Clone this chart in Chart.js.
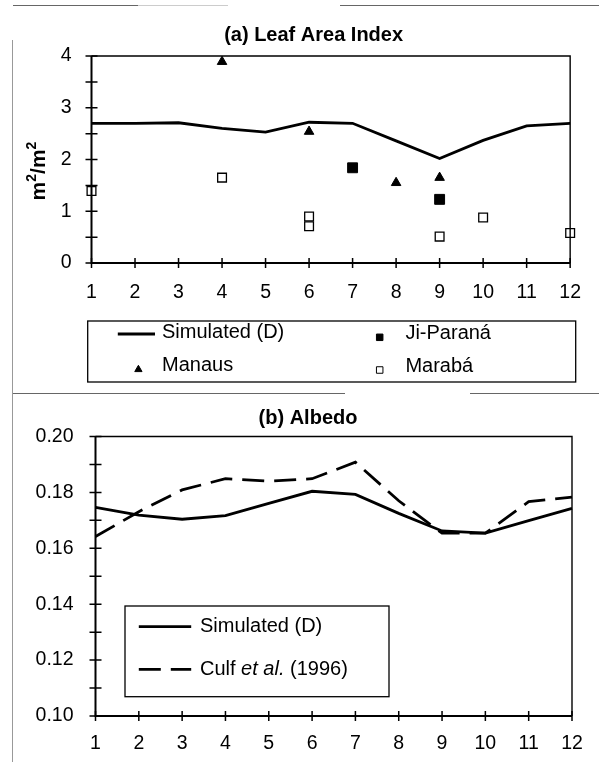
<!DOCTYPE html>
<html>
<head>
<meta charset="utf-8">
<script src="https://cdn.jsdelivr.net/npm/chart.js@4.4.0/dist/chart.umd.min.js"></script>
<style>
  html, body { margin: 0; padding: 0; background: #fff; }
  body { width: 599px; height: 770px; position: relative; overflow: hidden; }
  canvas { position: absolute; left: 0; }
  #laiChart { top: 0; }
  #albedoChart { top: 395px; }
  .rule { position: absolute; background: #666; }
  .rule.light { background: #999; }
</style>
</head>
<body>
<!-- figure frame rules -->
<div class="rule" style="left:13px;top:5px;width:125px;height:1px"></div>
<div class="rule light" style="left:138px;top:5px;width:90px;height:1px;opacity:.5"></div>
<div class="rule" style="left:340px;top:5px;width:259px;height:1px"></div>
<div class="rule light" style="left:12px;top:40px;width:1px;height:722px"></div>
<div class="rule" style="left:13px;top:393px;width:332px;height:1px"></div>
<div class="rule" style="left:470px;top:393px;width:129px;height:1px"></div>

<canvas id="laiChart" width="599" height="395"></canvas>
<canvas id="albedoChart" width="599" height="375"></canvas>

<script>
// ---- data ----
const months = [1, 2, 3, 4, 5, 6, 7, 8, 9, 10, 11, 12];
const monthLabels = ['1', '2', '3', '4', '5', '6', '7', '8', '9', '10', '11', '12'];

// (a) Leaf area index, m2/m2
const laiSimulated = [2.70, 2.70, 2.71, 2.60, 2.53, 2.72, 2.70, 2.36, 2.02, 2.37, 2.65, 2.70];
const manausMonths = [4, 6, 8, 9];
const manausLai = [3.89, 2.54, 1.55, 1.65];
const jiParanaMonths = [7, 9];
const jiParanaLai = [1.84, 1.23];
const marabaMonths = [1, 4, 6, 6, 9, 10, 12];
const marabaLai = [1.39, 1.65, 0.90, 0.71, 0.51, 0.88, 0.58];
const laiTicks = [0, 1, 2, 3, 4];

// (b) Albedo
const albedoSimulated = [0.1746, 0.1719, 0.1704, 0.1717, 0.1761, 0.1804, 0.1793, 0.1725, 0.1662, 0.1654, 0.1699, 0.1743];
const albedoCulf = [0.1642, 0.1731, 0.1809, 0.1849, 0.1840, 0.1849, 0.1908, 0.1770, 0.1654, 0.1654, 0.1767, 0.1783];
const albedoTicks = ['0.10', '0.12', '0.14', '0.16', '0.18', '0.20'];

// ---- helpers ----
const FONT = "'Liberation Sans', Arial, Helvetica, sans-serif";
const pairs = (xs, ys) => xs.map((m, i) => ({ x: m, y: ys[i] }));

// Axis box with tick marks that cross the axis lines
const framePlugin = {
  id: 'frame',
  afterDatasetsDraw(chart) {
    const { ctx, chartArea: a, scales: { x, y } } = chart;
    ctx.save();
    ctx.strokeStyle = '#000';
    ctx.lineWidth = 1.4;
    ctx.beginPath();
    ctx.moveTo(a.left, a.top); ctx.lineTo(a.right, a.top); ctx.lineTo(a.right, a.bottom);
    ctx.stroke();
    ctx.lineWidth = 2;
    ctx.beginPath();
    ctx.moveTo(a.left, a.top); ctx.lineTo(a.left, a.bottom); ctx.lineTo(a.right, a.bottom);
    ctx.stroke();
    ctx.lineWidth = 1.5;
    ctx.beginPath();
    x.ticks.forEach(t => {
      const px = x.getPixelForValue(t.value);
      ctx.moveTo(px, a.bottom - 5); ctx.lineTo(px, a.bottom + 5);
    });
    y.ticks.forEach(t => {
      const py = y.getPixelForValue(t.value);
      ctx.moveTo(a.left - 6, py); ctx.lineTo(a.left + 6, py);
    });
    ctx.stroke();
    ctx.restore();
  }
};

// Titles, axis title and boxed legend
const annotationPlugin = {
  id: 'annotations',
  afterDraw(chart, args, opts) {
    const ctx = chart.ctx;
    ctx.save();
    ctx.fillStyle = '#000';
    ctx.strokeStyle = '#000';
    // panel title
    ctx.font = `bold 20px ${FONT}`;
    ctx.textAlign = 'center';
    ctx.textBaseline = 'middle';
    ctx.fillText(opts.title.text, opts.title.x, opts.title.y);

    // rotated unit label with superscripts
    if (opts.yTitle) {
      const parts = opts.yTitle.parts;
      ctx.save();
      ctx.translate(opts.yTitle.x, opts.yTitle.y);
      ctx.rotate(-Math.PI / 2);
      ctx.textAlign = 'left';
      ctx.textBaseline = 'alphabetic';
      let total = 0;
      parts.forEach(p => { ctx.font = `bold ${p.size}px ${FONT}`; total += ctx.measureText(p.text).width; });
      let cx = -total / 2;
      parts.forEach(p => {
        ctx.font = `bold ${p.size}px ${FONT}`;
        ctx.fillText(p.text, cx, p.rise);
        cx += ctx.measureText(p.text).width;
      });
      ctx.restore();
    }

    // legend box
    const lg = opts.legend;
    ctx.lineWidth = 1.3;
    ctx.strokeRect(lg.box[0], lg.box[1], lg.box[2], lg.box[3]);
    lg.items.forEach(item => {
      const ds = chart.data.datasets[item.dataset];
      if (item.line) {
        ctx.save();
        ctx.lineWidth = ds.borderWidth;
        ctx.strokeStyle = ds.borderColor;
        ctx.setLineDash(ds.borderDash || []);
        ctx.beginPath();
        ctx.moveTo(item.line[0], item.line[2]);
        ctx.lineTo(item.line[1], item.line[2]);
        ctx.stroke();
        ctx.restore();
      } else {
        ctx.save();
        ctx.fillStyle = ds.backgroundColor;
        ctx.strokeStyle = ds.borderColor;
        ctx.lineWidth = 1;
        Chart.helpers.drawPoint(ctx, {
          pointStyle: ds.pointStyle, radius: item.radius, rotation: 0, borderWidth: 1
        }, item.marker[0], item.marker[1]);
        ctx.restore();
      }
      ctx.textAlign = 'left';
      ctx.textBaseline = 'middle';
      let tx = item.text[0];
      item.runs.forEach(r => {
        ctx.font = `${r.italic ? 'italic ' : ''}20px ${FONT}`;
        ctx.fillText(r.t, tx, item.text[1]);
        tx += ctx.measureText(r.t).width;
      });
    });
    ctx.restore();
  }
};

const tickFont = { family: FONT, size: 19.5 };

// ---- (a) Leaf Area Index ----
new Chart(document.getElementById('laiChart'), {
  type: 'line',
  data: {
    datasets: [
      { label: 'Simulated (D)', data: pairs(months, laiSimulated), borderColor: '#000',
        borderWidth: 2.8, pointRadius: 0, tension: 0, clip: false },
      { label: 'Manaus', data: pairs(manausMonths, manausLai), showLine: false,
        pointStyle: 'triangle', pointRadius: 5.5, backgroundColor: '#000', borderColor: '#000',
        pointBackgroundColor: '#000', pointBorderColor: '#000', pointBorderWidth: 1, clip: false },
      { label: 'Ji-Paraná', data: pairs(jiParanaMonths, jiParanaLai), showLine: false,
        pointStyle: 'rect', pointRadius: 7, backgroundColor: '#000', borderColor: '#000',
        pointBackgroundColor: '#000', pointBorderColor: '#000', pointBorderWidth: 1, clip: false },
      { label: 'Marabá', data: pairs(marabaMonths, marabaLai), showLine: false,
        pointStyle: 'rect', pointRadius: 6.2, backgroundColor: '#fff', borderColor: '#000',
        pointBackgroundColor: '#fff', pointBorderColor: '#000', pointBorderWidth: 1.3, clip: false }
    ]
  },
  options: {
    responsive: false, animation: false, devicePixelRatio: 1,
    layout: { padding: { left: 1.5, right: 24, top: 56, bottom: 92 } },
    events: [],
    plugins: {
      legend: { display: false }, tooltip: { enabled: false },
      annotations: {
        title: { text: '(a) Leaf Area Index', x: 313.6, y: 35 },
        yTitle: { x: 45, y: 171, parts: [
          { text: 'm', size: 21, rise: 0 }, { text: '2', size: 14, rise: -9 },
          { text: '/', size: 21, rise: 0 }, { text: 'm', size: 21, rise: 0 },
          { text: '2', size: 14, rise: -9 } ] },
        legend: {
          box: [87.7, 321, 488, 61],
          items: [
            { dataset: 0, line: [117.8, 155, 334], text: [162, 332.5], runs: [{ t: 'Simulated (D)' }] },
            { dataset: 1, marker: [138.4, 369.5], radius: 4.2, text: [162, 365.5], runs: [{ t: 'Manaus' }] },
            { dataset: 2, marker: [379.7, 337.3], radius: 4.6, text: [405.4, 333], runs: [{ t: 'Ji-Paraná' }] },
            { dataset: 3, marker: [379.7, 370], radius: 4.6, text: [405.4, 366], runs: [{ t: 'Marabá' }] }
          ]
        }
      }
    },
    scales: {
      x: {
        type: 'linear', min: 1, max: 12,
        afterFit(s) { s.height = 40; },
        ticks: { stepSize: 1, autoSkip: false, padding: 18, color: '#000', font: tickFont,
                 callback: v => monthLabels[months.indexOf(v)] },
        grid: { display: false, drawTicks: false }, border: { display: false }
      },
      y: {
        type: 'linear', min: 0, max: 4,
        afterFit(s) { s.width = 90; },
        ticks: { stepSize: 0.5, autoSkip: false, padding: 20, color: '#000', font: tickFont,
                 callback: v => laiTicks.includes(v) ? String(v) : '' },
        grid: { display: false, drawTicks: false }, border: { display: false }
      }
    }
  },
  plugins: [framePlugin, annotationPlugin]
});

// ---- (b) Albedo ----
new Chart(document.getElementById('albedoChart'), {
  type: 'line',
  data: {
    datasets: [
      { label: 'Simulated (D)', data: pairs(months, albedoSimulated), borderColor: '#000',
        borderWidth: 2.8, pointRadius: 0, tension: 0, clip: false },
      { label: 'Culf et al. (1996)', data: pairs(months, albedoCulf), borderColor: '#000',
        borderWidth: 2.8, borderDash: [22, 10], pointRadius: 0, tension: 0, clip: false }
    ]
  },
  options: {
    responsive: false, animation: false, devicePixelRatio: 1,
    layout: { padding: { left: 5.5, right: 27, top: 41.5, bottom: 14 } },
    events: [],
    plugins: {
      legend: { display: false }, tooltip: { enabled: false },
      annotations: {
        title: { text: '(b) Albedo', x: 308, y: 23.3 },
        legend: {
          box: [125, 211, 264, 90.7],
          items: [
            { dataset: 0, line: [138.8, 191.2, 231.7], text: [200, 231.7], runs: [{ t: 'Simulated (D)' }] },
            { dataset: 1, line: [138.8, 191.2, 274.3], text: [200, 274.3],
              runs: [{ t: 'Culf ' }, { t: 'et al.', italic: true }, { t: ' (1996)' }] }
          ]
        }
      }
    },
    scales: {
      x: {
        type: 'linear', min: 1, max: 12,
        afterFit(s) { s.height = 40; },
        ticks: { stepSize: 1, autoSkip: false, padding: 16, color: '#000', font: tickFont,
                 callback: v => monthLabels[months.indexOf(v)] },
        grid: { display: false, drawTicks: false }, border: { display: false }
      },
      y: {
        type: 'linear', min: 0.10, max: 0.20,
        afterFit(s) { s.width = 90; },
        ticks: { stepSize: 0.01, autoSkip: false, padding: 22, color: '#000', font: tickFont,
                 callback: v => { const s = v.toFixed(2); return albedoTicks.includes(s) ? s : ''; } },
        grid: { display: false, drawTicks: false }, border: { display: false }
      }
    }
  },
  plugins: [framePlugin, annotationPlugin]
});
</script>
</body>
</html>
